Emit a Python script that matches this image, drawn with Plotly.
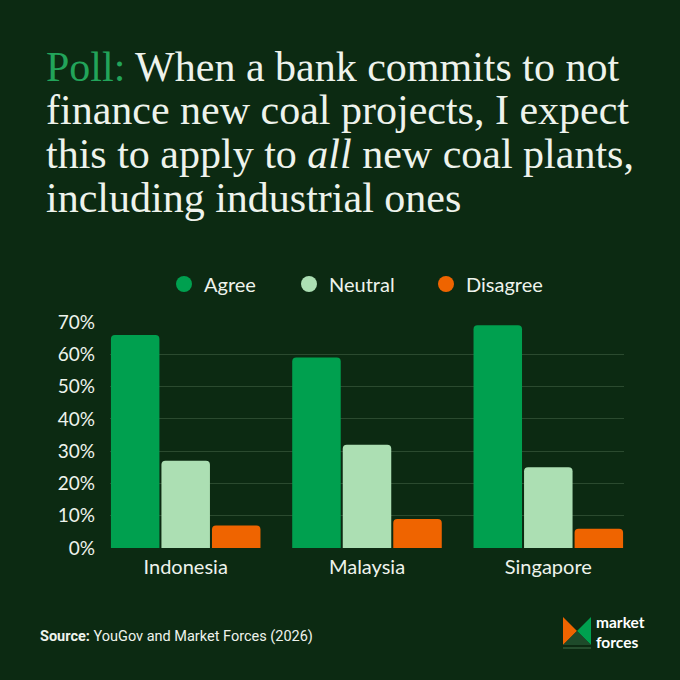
import plotly.graph_objects as go

countries = ["Indonesia", "Malaysia", "Singapore"]
series_names = ["Agree", "Neutral", "Disagree"]
agree = [66, 59, 69]
neutral = [27, 32, 25]
disagree = [7, 9, 6]
y_ticks = [0, 10, 20, 30, 40, 50, 60, 70]

colors = ["#00a04f", "#acdfb3", "#ef6400"]
BG = "#0c2a12"
TXT = "#eef3ec"

W, H = 680, 680
L, R, T, B = 110, 56, 322, 132
PW, PH = W - L - R, H - T - B


def px(x):
    return (x - L) / PW


def py(y):
    return (H - B - y) / PH


fig = go.Figure()
for name, vals, col in zip(series_names, [agree, neutral, disagree], colors):
    fig.add_trace(go.Bar(x=countries, y=vals, name=name, marker_color=col,
                         marker_line_width=0, showlegend=False))

legend_ids = ["legend", "legend2", "legend3"]
legend_x = [164, 289, 426]
for name, col, lid in zip(series_names, colors, legend_ids):
    fig.add_trace(go.Scatter(x=[None], y=[None], mode="markers", name=name,
                             marker=dict(color=col, size=20, symbol="circle"),
                             showlegend=True, legend=lid))

legend_common = dict(orientation="h", xanchor="left", y=py(284), yanchor="middle",
                     font=dict(family="Lato", size=20, color=TXT),
                     bgcolor="rgba(0,0,0,0)")
legends = {lid: dict(x=px(lx), **legend_common) for lid, lx in zip(legend_ids, legend_x)}

fig.update_layout(
    width=W, height=H,
    margin=dict(l=L, r=R, t=T, b=B),
    paper_bgcolor=BG, plot_bgcolor=BG,
    barmode="group", bargap=0.164, bargroupgap=0.04, barcornerradius=4,
    font=dict(family="Lato", color=TXT, size=19),
    showlegend=True,
    **legends,
)
fig.update_xaxes(range=[-0.4175, 2.4175], showgrid=False, showline=False, zeroline=False,
                 tickfont=dict(family="Lato", size=20, color=TXT), ticks="",
                 ticklabelstandoff=5)
fig.update_yaxes(range=[0, 70], tickvals=y_ticks, ticktext=[f"{v}%" for v in y_ticks],
                 showgrid=True, gridcolor="#2b4a2f", gridwidth=1, zeroline=False,
                 showline=False, tickfont=dict(family="Lato", size=19, color=TXT),
                 ticks="", ticklabelstandoff=14)

title_lines = [
    "<span style='color:#22a45a'>Poll:</span> When a bank commits to not",
    "finance new coal projects, I expect",
    "this to apply to <i>all</i> new coal plants,",
    "including industrial ones",
]
centers = [67, 110, 154, 198]
for line, cy in zip(title_lines, centers):
    fig.add_annotation(text=line, xref="paper", yref="paper", x=px(44), y=py(cy),
                       xanchor="left", yanchor="middle", showarrow=False,
                       font=dict(family="Liberation Serif", size=42, color=TXT))

fig.add_annotation(text="<b>Source:</b> YouGov and Market Forces (2026)",
                   xref="paper", yref="paper", x=px(38), y=py(636),
                   xanchor="left", yanchor="middle", showarrow=False,
                   font=dict(family="Roboto", size=14.5, color=TXT))

fig.add_annotation(text="<b>market<br>forces</b>", xref="paper", yref="paper",
                   x=px(594), y=py(632), xanchor="left", yanchor="middle",
                   showarrow=False, align="left",
                   font=dict(family="Lato", size=15.5, color="#ffffff"))


def tri(pts, color):
    d = "M " + " L ".join(f"{px(a)},{py(b)}" for a, b in pts) + " Z"
    fig.add_shape(type="path", path=d, xref="paper", yref="paper",
                  fillcolor=color, line_width=0, layer="above")


tri([(563, 617), (577, 631), (563, 645)], "#ef6400")
tri([(591, 617), (591, 645), (577, 631)], "#00a04f")
tri([(563, 645), (577, 631), (591, 645)], "#1e4a2a")
fig.add_shape(type="line", xref="paper", yref="paper", x0=px(563), x1=px(591),
              y0=py(648), y1=py(648), line=dict(color="#2f5a38", width=1.5))

fig.write_html("out.html", config={"displayModeBar": False},
               post_script="document.body.style.margin='0';"
                           "document.body.style.background='" + BG + "';")
